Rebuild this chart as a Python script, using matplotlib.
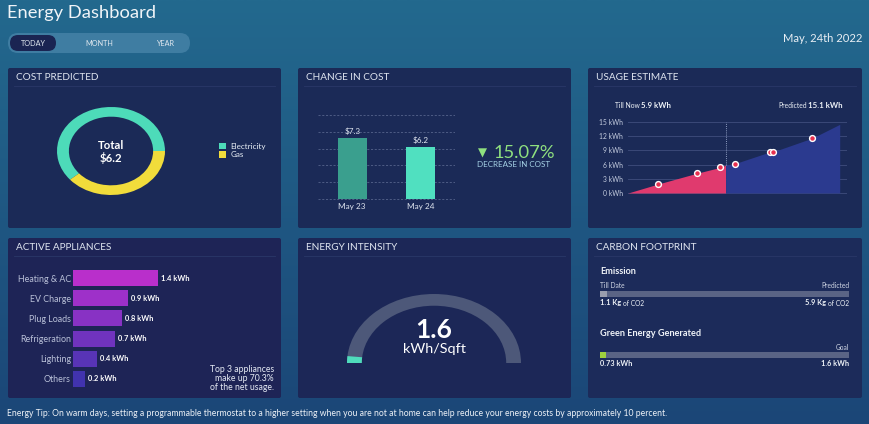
import numpy as np
import matplotlib
matplotlib.use('Agg')
import matplotlib.pyplot as plt
from matplotlib.patches import FancyBboxPatch, Wedge
from matplotlib.colors import to_rgb

plt.rcParams['font.family'] = ['Lato', 'DejaVu Sans']

W, H, DPI = 869, 424, 100

# ---------------- data ----------------
cost_labels = ['Electricity', 'Gas']
cost_values = [3.8, 2.4]
cost_total = 6.2

change_days = ['May 23', 'May 24']
change_costs = [7.3, 6.2]
change_pct = 15.07

usage_hours = [0, 3.3, 7.6, 10.1, 10.7, 11.7, 15.6, 15.9, 20.2, 23.2]
usage_kwh = [0, 1.9, 4.2, 5.4, 5.9, 6.2, 8.7, 8.7, 11.6, 14.5]
usage_split_hour = 10.7
usage_ticks = [0, 3, 6, 9, 12, 15]
usage_till_now = 5.9
usage_predicted = 15.1

appliances = ['Heating & AC', 'EV Charge', 'Plug Loads', 'Refrigeration', 'Lighting', 'Others']
appliance_kwh = [1.4, 0.9, 0.8, 0.7, 0.4, 0.2]
appliance_colors = ['#b92fcb', '#9e30c9', '#8832c4', '#7033be', '#5834b6', '#4133ae']
top3_share = 70.3

intensity_value = 1.6
intensity_max = 50

emission_values = [1.1, 5.9]
emission_progress = 0.03
green_values = [0.73, 1.6]
green_progress = 0.025

tip = ("Energy Tip: On warm days, setting a programmable thermostat to a higher setting when you "
       "are not at home can help reduce your energy costs by approximately 10 percent.")

# ---------------- figure ----------------
fig = plt.figure(figsize=(W / DPI, H / DPI), dpi=DPI)
bg = fig.add_axes([0, 0, 1, 1])
top_c = np.array(to_rgb('#23698e'))
bot_c = np.array(to_rgb('#1b4677'))
t = np.linspace(0, 1, 256)[:, None]
grad = (top_c * (1 - t) + bot_c * t)[:, None, :]
bg.imshow(grad, extent=[0, W, H, 0], aspect='auto', zorder=0, interpolation='bilinear')
bg.set_xlim(0, W)
bg.set_ylim(H, 0)
bg.axis('off')


def px_axes(x0, y0, x1, y1):
    ax = fig.add_axes([x0 / W, 1 - y1 / H, (x1 - x0) / W, (y1 - y0) / H])
    ax.set_facecolor('none')
    return ax


WHITE = '#eef2f7'

# header
bg.text(7, 13, 'Energy Dashboard', fontsize=13.2, color='#f0f4f8', va='center', ha='left')
bg.add_patch(FancyBboxPatch((8, 33), 182, 20, boxstyle='round,pad=0,rounding_size=10',
                            fc='#3f7da2', ec='none', zorder=1))
bg.add_patch(FancyBboxPatch((10, 35), 46, 16, boxstyle='round,pad=0,rounding_size=8',
                            fc='#1a2452', ec='none', zorder=2))
for lab, xx in zip(['TODAY', 'MONTH', 'YEAR'], [33, 99, 165]):
    bg.text(xx, 43, lab, fontsize=5.2, color='#e2e9f0', ha='center', va='center', zorder=3)
bg.text(862, 39, 'May, 24th 2022', fontsize=8.1, color='#e8eef4', ha='right', va='center')

# panels
panels = [(8, 68, 281, 228, 'COST PREDICTED', '#1b2a57'),
          (298, 68, 571, 228, 'CHANGE IN COST', '#1b2a57'),
          (588, 68, 862, 228, 'USAGE ESTIMATE', '#1b2a57'),
          (8, 238, 281, 398, 'ACTIVE APPLIANCES', '#1e2456'),
          (298, 238, 571, 398, 'ENERGY INTENSITY', '#1c2757'),
          (588, 238, 862, 398, 'CARBON FOOTPRINT', '#1c2b5a')]
for x0, y0, x1, y1, title, fc in panels:
    bg.add_patch(FancyBboxPatch((x0, y0), x1 - x0, y1 - y0, boxstyle='round,pad=0,rounding_size=2',
                                fc=fc, ec='none', zorder=1))
    bg.plot([x0 + 6, x1 - 6], [y0 + 18, y0 + 18], color='#2a3868', lw=0.6, zorder=2)
    bg.text(x0 + 8, y0 + 9.5, title, fontsize=7.2, color='#dfe5f0', ha='left', va='center', zorder=3)

# ---- cost predicted (donut) ----
axd = px_axes(57, 107, 165, 195)
wedges, _ = axd.pie(cost_values, colors=['#4ddbb9', '#f1dc3b'], startangle=0, counterclock=True,
                    wedgeprops=dict(width=0.22, edgecolor='none'), radius=1)
axd.set_aspect('auto')
axd.set_xlim(-1, 1)
axd.set_ylim(-1, 1)
axd.axis('off')
axd.text(0, 0.12, 'Total', fontsize=8.2, fontweight='bold', color='white', ha='center', va='center')
axd.text(0, -0.15, f'${cost_total}', fontsize=8.2, fontweight='bold', color='white', ha='center', va='center')
bg.legend(wedges, cost_labels, loc='center left', bbox_to_anchor=(219, 150.5), bbox_transform=bg.transData,
          frameon=False, fontsize=5.8, labelcolor='#e8eef5', handlelength=0.9, handleheight=0.9,
          handletextpad=0.5, labelspacing=0.15, borderpad=0, borderaxespad=0)

# ---- change in cost (bars) ----
axb = px_axes(318, 114, 455, 200)
xs = np.arange(len(change_costs))
axb.bar(xs, change_costs, width=0.42, color=['#3a9f8e', '#50e0c0'], zorder=3)
for v in range(0, 11, 2):
    axb.axhline(v, color='#56648c', lw=0.6, ls=(0, (2.5, 2)), zorder=1)
for xi, v in zip(xs, change_costs):
    axb.text(xi, v + 0.3, f'${v}', ha='center', va='bottom', fontsize=5.9, color='#e0e6f0')
axb.set_xlim(-0.5, 1.5)
axb.set_ylim(-0.12, 10.12)
axb.set_xticks(xs, change_days)
axb.set_yticks([])
axb.tick_params(axis='x', length=0, pad=2, labelsize=5.9, labelcolor='#dfe5ef')
for s in axb.spines.values():
    s.set_visible(False)
bg.text(482, 153, '\u25BC', fontsize=8.5, color='#8fe07f', ha='center', va='center', family='DejaVu Sans')
bg.text(494, 153, f'{change_pct:.2f}%', fontsize=13.2, color='#8fe07f', ha='left', va='center')
bg.text(514, 164.5, 'DECREASE IN COST', fontsize=5.75, color='#a6d2e6', ha='center', va='center')

# ---- usage estimate ----
axu = px_axes(628, 121, 847, 194)
h = np.array(usage_hours)
k = np.array(usage_kwh)
si = usage_hours.index(usage_split_hour)
for v in usage_ticks:
    axu.axhline(v, color='#3a4878', lw=0.7, zorder=1)
axu.fill_between(h[:si + 1], k[:si + 1], color='#e03a6e', lw=0, zorder=2)
axu.fill_between(h[si:], k[si:], color='#2b3a8f', lw=0, zorder=2)
axu.plot([usage_split_hour, usage_split_hour], [k[si], 15], ls=(0, (1, 1.2)), color='#8e9cc0', lw=0.7, zorder=3)
dot_mask = np.ones(len(h), bool)
dot_mask[[0, si, len(h) - 1]] = False
axu.plot(h[dot_mask], k[dot_mask], 'o', ms=4.2, mfc='#e8304f', mec='white', mew=1.0, ls='none', zorder=4)
axu.set_xlim(0, 24)
axu.set_ylim(-0.21, 15.21)
axu.set_xticks([])
axu.set_yticks(usage_ticks, [f'{v} kWh' for v in usage_ticks])
axu.tick_params(axis='y', length=0, pad=3.5, labelsize=4.9, labelcolor='#c5cde0')
for s in axu.spines.values():
    s.set_visible(False)

renderer = fig.canvas.get_renderer()
inv = bg.transData.inverted()


def text_pair(x, y, s1, s2, fs1, fs2, w1, w2, color, align='left', gap=1.5):
    if align == 'left':
        t1 = bg.text(x, y, s1, fontsize=fs1, fontweight=w1, ha='left', va='baseline', color=color, zorder=5)
        bb = t1.get_window_extent(renderer=renderer)
        x2 = inv.transform((bb.x1, 0))[0] + gap
        bg.text(x2, y, s2, fontsize=fs2, fontweight=w2, ha='left', va='baseline', color=color, zorder=5)
    else:
        t2 = bg.text(x, y, s2, fontsize=fs2, fontweight=w2, ha='right', va='baseline', color=color, zorder=5)
        bb = t2.get_window_extent(renderer=renderer)
        x1 = inv.transform((bb.x0, 0))[0] - gap
        bg.text(x1, y, s1, fontsize=fs1, fontweight=w1, ha='right', va='baseline', color=color, zorder=5)


text_pair(615, 108, 'Till Now', f'{usage_till_now} kWh', 4.9, 5.7, 'normal', 'bold', WHITE)
text_pair(843, 108, 'Predicted', f'{usage_predicted} kWh', 4.9, 5.7, 'normal', 'bold', WHITE, align='right')

# ---- active appliances ----
axa = px_axes(73, 268, 255, 389)
ys = np.arange(len(appliances))
axa.barh(ys, appliance_kwh, height=0.79, color=appliance_colors, zorder=2)
for yi, v in zip(ys, appliance_kwh):
    axa.text(v + 0.05, yi, f'{v} kWh', va='center', ha='left', fontsize=5.4, fontweight='bold', color='white')
axa.set_xlim(0, 3)
axa.set_ylim(len(appliances) - 0.5, -0.5)
axa.set_xticks([])
axa.set_yticks(ys, appliances)
axa.tick_params(axis='y', length=0, pad=1.5, labelsize=6.4, labelcolor='#b9c0d8')
for s in axa.spines.values():
    s.set_visible(False)
bg.text(274, 378.5, f'Top 3 appliances\nmake up {top3_share}%\nof the net usage.', ha='right', va='center',
        multialignment='right', fontsize=6.2, color='#e6ebf5', linespacing=1.0)

# ---- energy intensity gauge ----
cx, cy, rx, ry = 434, 363, 87, 69
axg = px_axes(cx - 1.1 * rx, cy - 1.1 * ry, cx + 1.1 * rx, cy + 0.1 * ry)
axg.set_xlim(-1.1, 1.1)
axg.set_ylim(-0.1, 1.1)
axg.axis('off')
axg.add_patch(Wedge((0, 0), 1, 0, 180, width=0.17, fc='#4d5879', ec='none'))
ang = intensity_value / intensity_max * 180
axg.add_patch(Wedge((0, 0), 1, 180 - ang, 180, width=0.17, fc='#4fdcbc', ec='none'))
axg.text(0, 0.48, f'{intensity_value}', fontsize=19, fontweight='bold', color='white', ha='center', va='center')
axg.text(0, 0.2, 'kWh/Sqft', fontsize=10.4, color='white', ha='center', va='center')

# ---- carbon footprint ----
bg.text(600, 272, 'Emission', fontsize=6.6, fontweight='bold', color=WHITE, ha='left', va='center')
bg.text(600, 286, 'Till Date', fontsize=4.8, color='#d0d6e4', ha='left', va='center')
bg.text(849, 286, 'Predicted', fontsize=4.8, color='#d0d6e4', ha='right', va='center')
axe = px_axes(600, 291, 849, 297)
axe.barh(0, 1, height=1, color='#5a6485')
axe.barh(0, emission_progress, height=1, color='#9a9eae')
axe.set_xlim(0, 1)
axe.set_ylim(-0.5, 0.5)
axe.axis('off')
text_pair(600, 305.5, f'{emission_values[0]} Kg', 'of CO2', 5.3, 4.8, 'bold', 'normal', WHITE)
text_pair(849, 305.5, f'{emission_values[1]} Kg', 'of CO2', 5.3, 4.8, 'bold', 'normal', WHITE, align='right')

bg.text(600, 334, 'Green Energy Generated', fontsize=6.6, fontweight='bold', color=WHITE, ha='left', va='center')
bg.text(849, 347.5, 'Goal', fontsize=4.8, color='#d0d6e4', ha='right', va='center')
axgr = px_axes(600, 352, 849, 358)
axgr.barh(0, 1, height=1, color='#5a6485')
axgr.barh(0, green_progress, height=1, color='#a0d13e')
axgr.set_xlim(0, 1)
axgr.set_ylim(-0.5, 0.5)
axgr.axis('off')
bg.text(600, 364, f'{green_values[0]} kWh', fontsize=5.3, fontweight='bold', color=WHITE, ha='left', va='center')
bg.text(849, 364, f'{green_values[1]} kWh', fontsize=5.3, fontweight='bold', color=WHITE, ha='right', va='center')

# ---- tip ----
bg.text(7, 413, tip, fontsize=6.2, color='#eef2f7', ha='left', va='center')

fig.savefig('out.png', dpi=DPI)
